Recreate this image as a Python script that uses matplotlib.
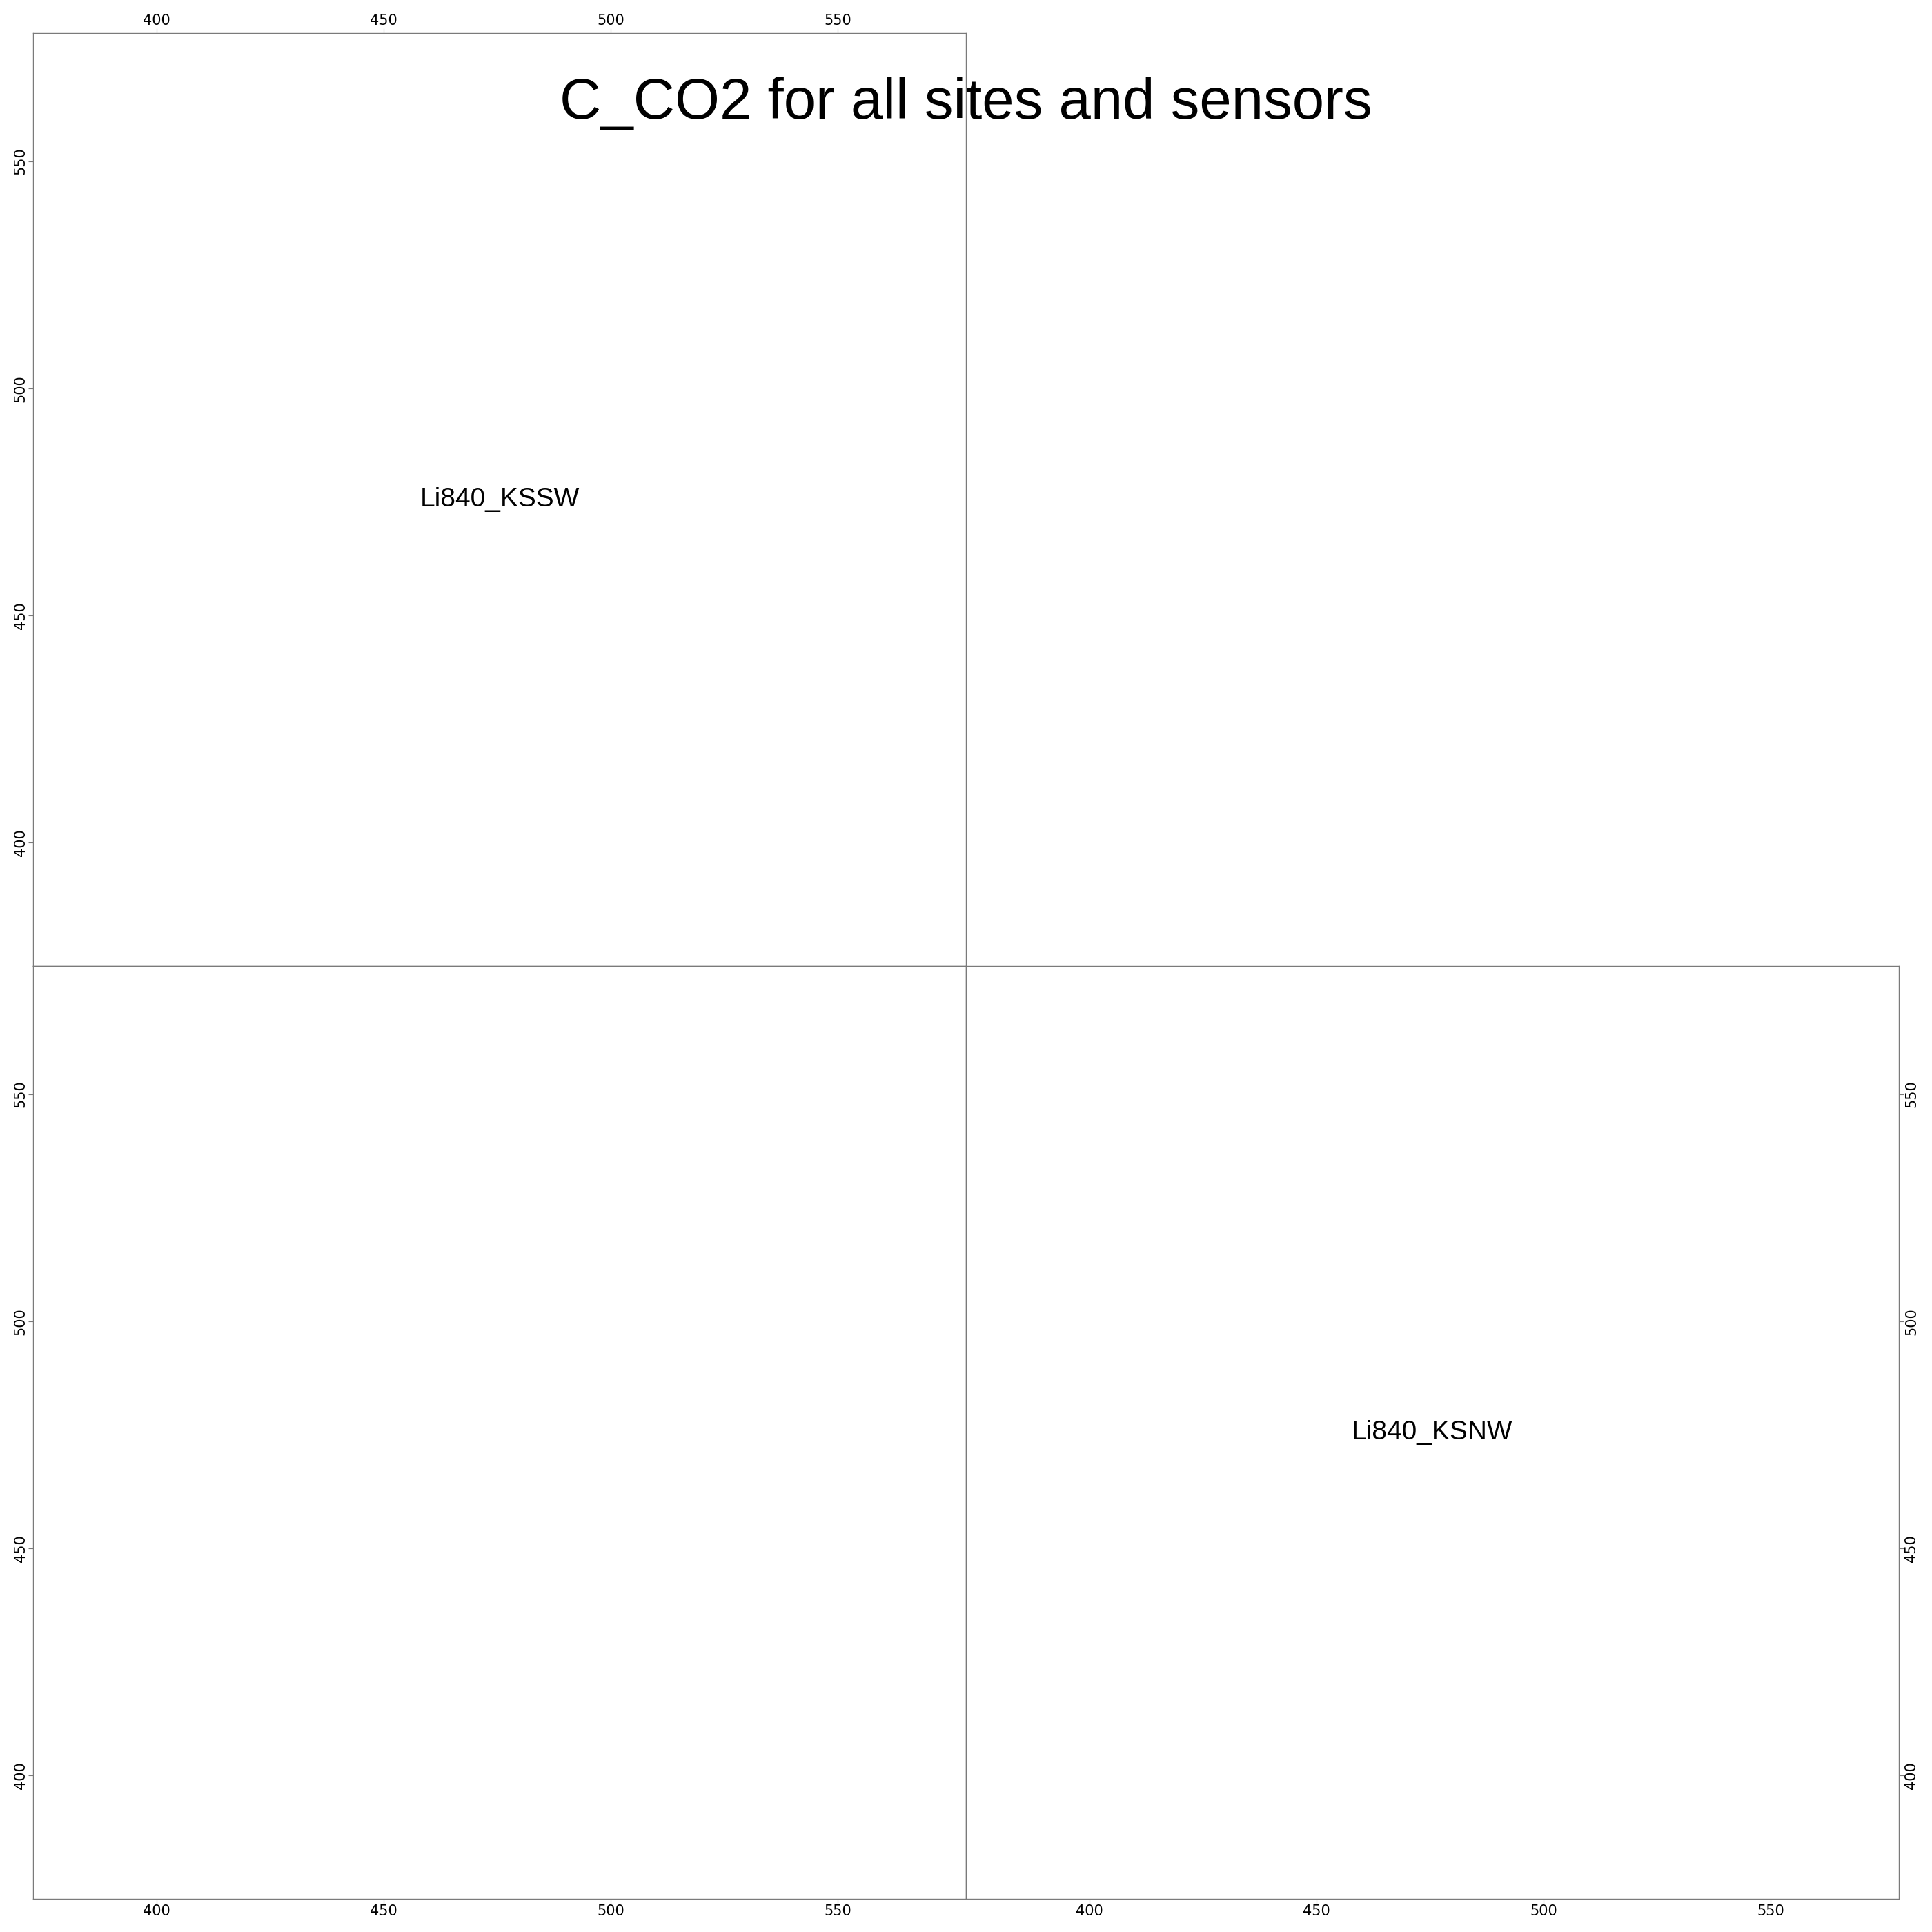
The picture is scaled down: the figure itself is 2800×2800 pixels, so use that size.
import matplotlib
matplotlib.use('Agg')
import matplotlib.pyplot as plt

# pairs() layout of C_CO2 for two sensors, panels hold no points
sensors = ['Li840_KSSW', 'Li840_KSNW']
axis_range = [372.8, 578.2]
tick_values = [400, 450, 500, 550]
title = 'C_CO2 for all sites and sensors'

plt.rcParams['font.family'] = ['Liberation Sans', 'DejaVu Sans']

W = 2800.0
fig = plt.figure(figsize=(28, 28), dpi=100)
fig.patch.set_facecolor('white')

left = 48 / W
size = 1352 / W
line_col = '#7a7a7a'


def make_panel(x0, y0, xside, yside):
    ax = fig.add_axes([x0, y0, size, size])
    ax.set_xlim(axis_range)
    ax.set_ylim(axis_range)
    for sp in ax.spines.values():
        sp.set_color(line_col)
        sp.set_linewidth(1.0)
    ax.set_xticks(tick_values)
    ax.set_yticks(tick_values)
    if xside == 'top':
        ax.xaxis.tick_top()
    else:
        ax.xaxis.tick_bottom()
    if yside == 'left':
        ax.yaxis.tick_left()
    else:
        ax.yaxis.tick_right()
    ax.tick_params(length=5, width=0.8, color=line_col, labelsize=15, pad=1)
    ax.tick_params(axis='y', labelrotation=90)
    # tick labels in DejaVu, both sides
    for tick in ax.xaxis.get_major_ticks() + ax.yaxis.get_major_ticks():
        tick.label1.set_family('DejaVu Sans')
        tick.label2.set_family('DejaVu Sans')
    for tick in ax.yaxis.get_major_ticks():
        tick.label1.set_va('center')
        tick.label2.set_va('center')
    return ax


# diagonal panel 1 (top-left)
ax1 = make_panel(left, 0.5, 'top', 'left')
ax1.text(sum(axis_range) / 2, sum(axis_range) / 2, sensors[0],
         ha='center', va='center', fontsize=28)

# lower panel (bottom-left), empty scatter
ax2 = make_panel(left, left, 'bottom', 'left')

# diagonal panel 2 (bottom-right)
ax3 = make_panel(0.5, left, 'bottom', 'right')
ax3.text(sum(axis_range) / 2, sum(axis_range) / 2, sensors[1],
         ha='center', va='center', fontsize=28)

fig.text(0.5, 1 - 172 / W, title, ha='center', va='baseline', fontsize=60)

fig.savefig('out.png', dpi=100, facecolor='white')
